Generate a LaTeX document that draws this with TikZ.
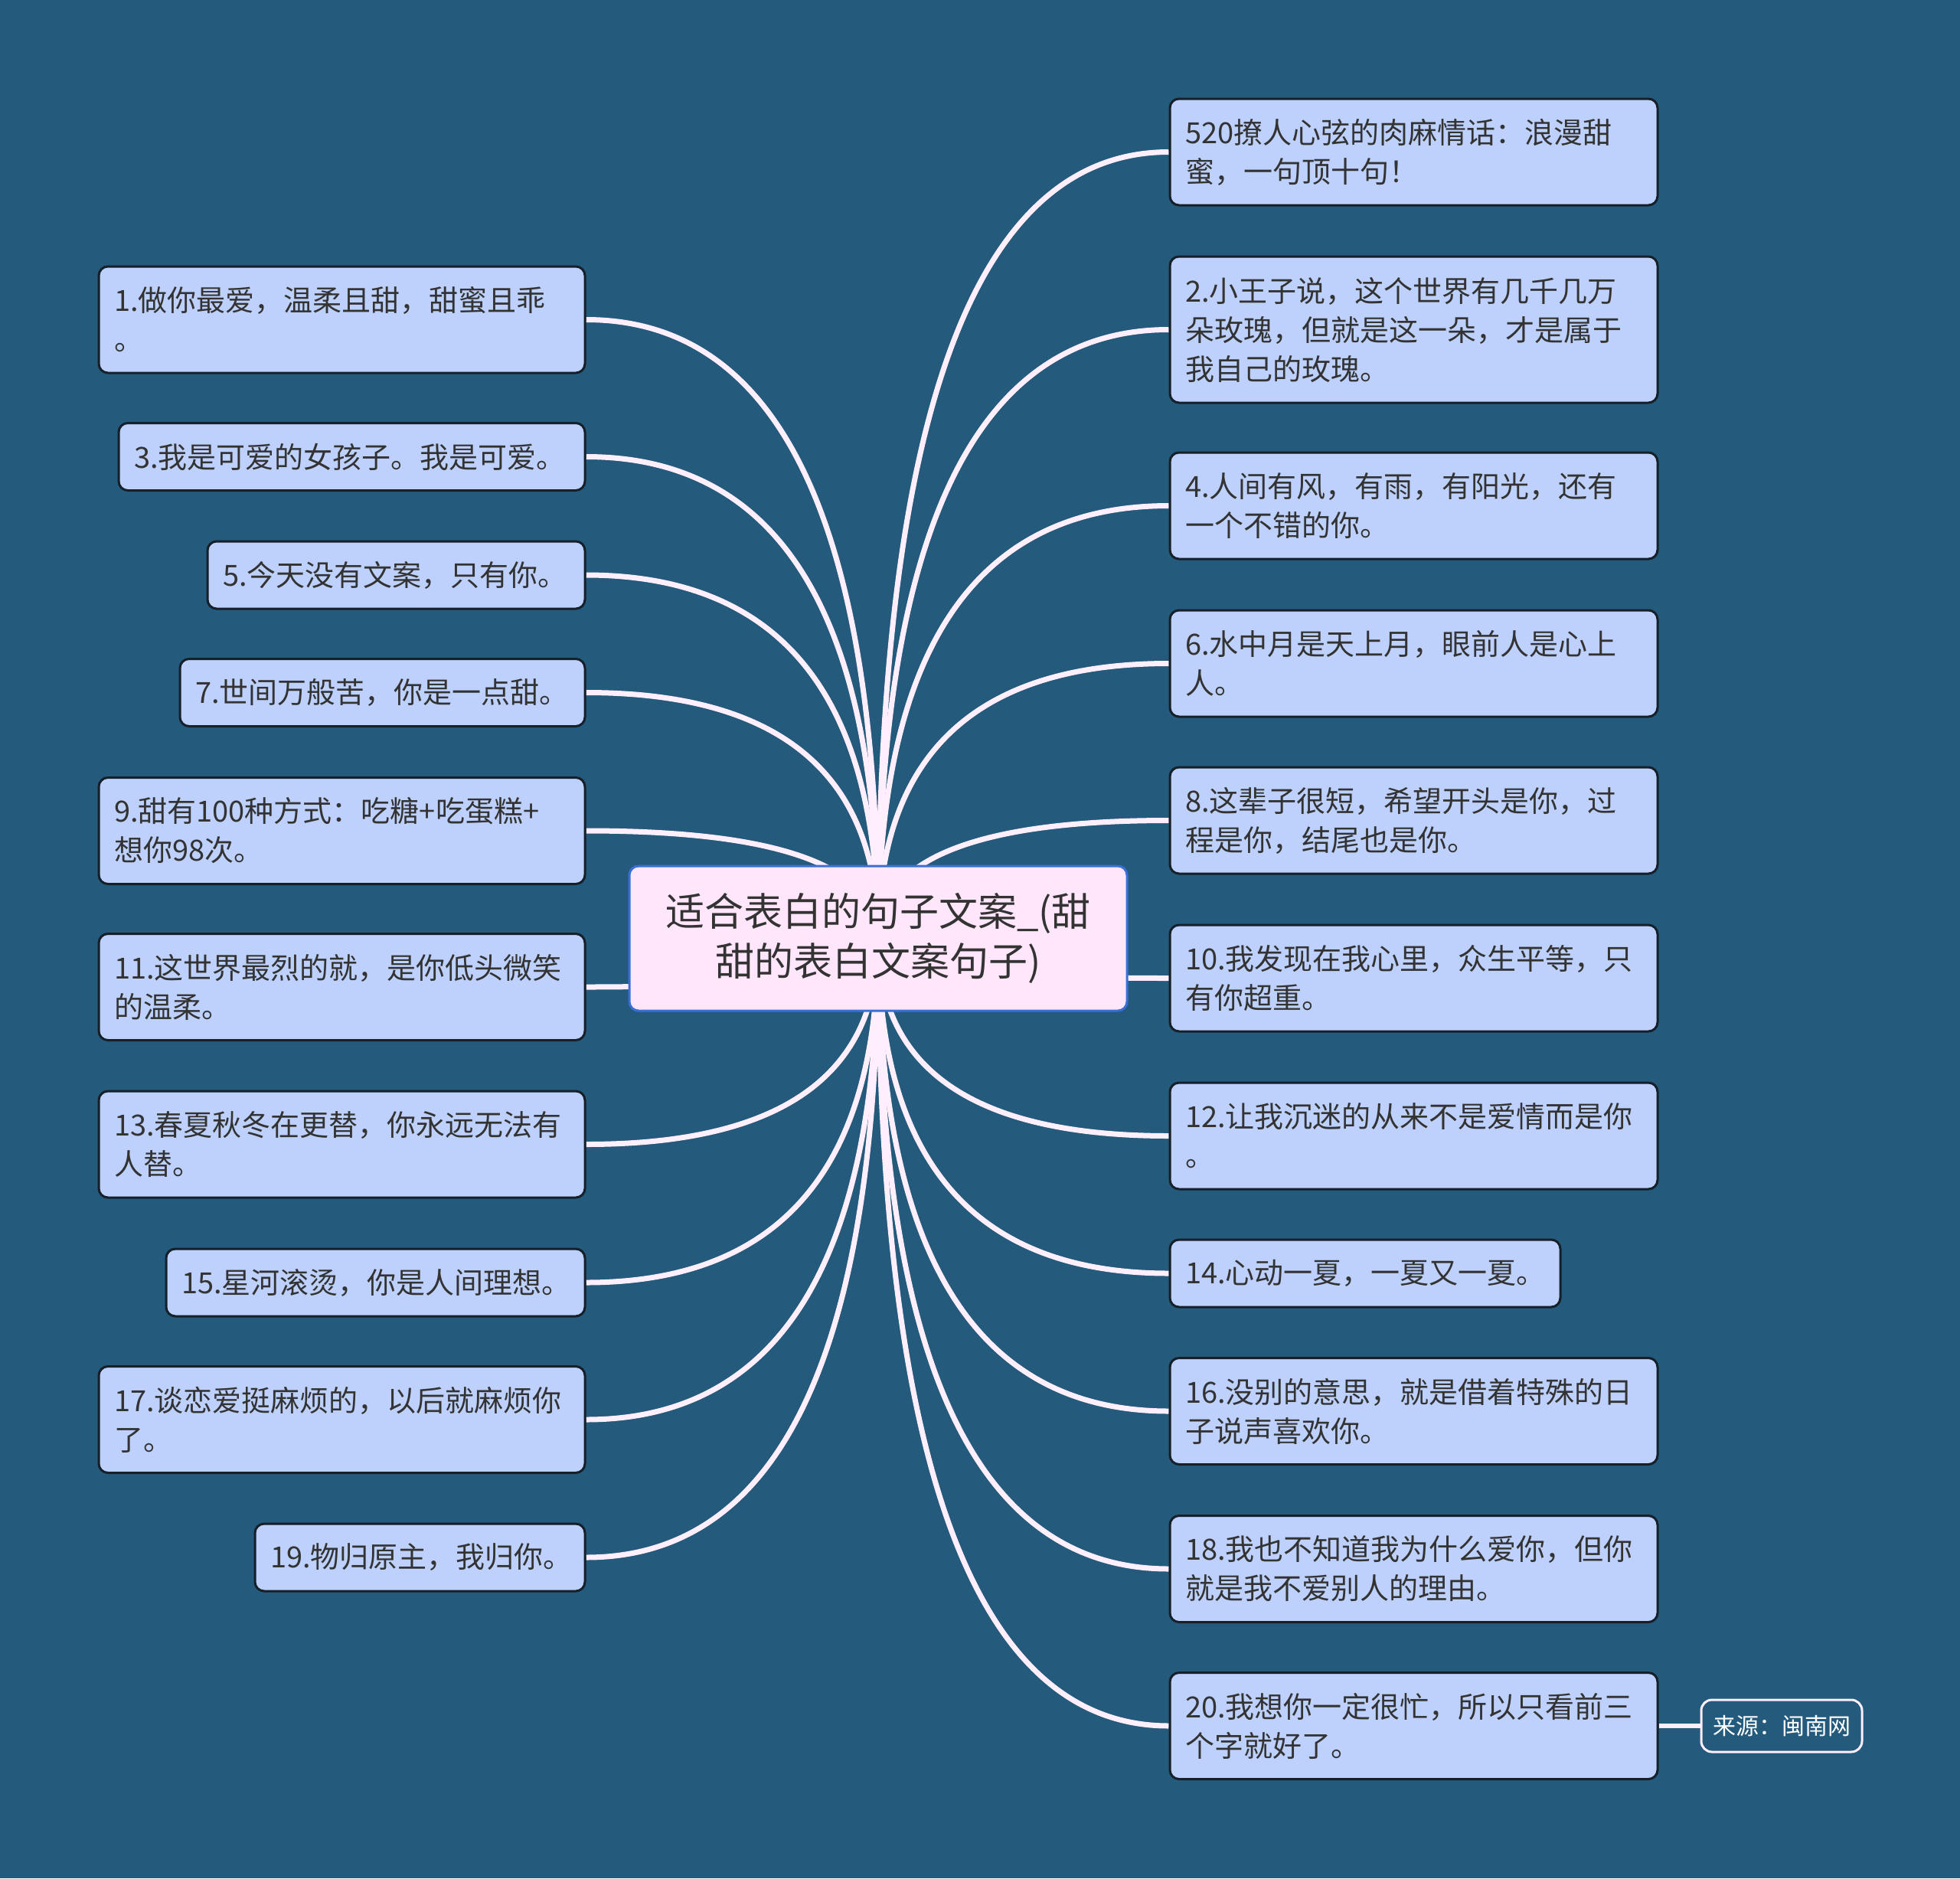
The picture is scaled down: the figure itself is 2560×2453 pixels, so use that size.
\documentclass[tikz,border=0pt]{standalone}
\usepackage{fontspec}
\newfontfamily\cjk{Noto Sans CJK SC}
\usetikzlibrary{calc}
\definecolor{bgcol}{HTML}{245A7C}
\definecolor{boxfill}{HTML}{BDD1FC}
\definecolor{boxborder}{HTML}{15202B}
\definecolor{rootfill}{HTML}{FFE6FA}
\definecolor{rootborder}{HTML}{3C6FD4}
\definecolor{linkcol}{HTML}{FFEEFB}
\definecolor{textcol}{HTML}{333333}
\pgfdeclarelayer{bglayer}
\pgfdeclarelayer{linklayer}
\pgfsetlayers{bglayer,linklayer,main}
\tikzset{
  leaf/.style={draw=boxborder, line width=3pt, fill=boxfill, rounded corners=12pt,
    inner xsep=20pt, inner ysep=0pt, align=left, text=textcol,
    font=\cjk\fontsize{38}{51}\selectfont},
  rootbox/.style={draw=rootborder, line width=3pt, fill=rootfill, rounded corners=12pt,
    inner sep=0pt, align=center, text=textcol,
    font=\cjk\fontsize{51}{65}\selectfont},
  srcbox/.style={draw=linkcol, line width=3pt, fill=bgcol, rounded corners=14pt,
    inner sep=0pt, align=center, text=white,
    font=\cjk\fontsize{30}{36}\selectfont},
  conn/.style={draw=linkcol, line width=7pt}
}
\newcommand\mmlink[1]{%
  \coordinate (mmq) at (root.center |- #1);
  \draw[conn] (root.center) .. controls ($(root.center)!0.6667!(mmq)$) and ($(#1)!0.6667!(mmq)$) .. (#1);}
\begin{document}
\begin{tikzpicture}[x=1pt,y=-1pt]
\useasboundingbox (0,0) rectangle (2560,2453);
\begin{pgfonlayer}{bglayer}
\fill[bgcol] (0,0) rectangle (2560,2453);
\end{pgfonlayer}

% root
\node[rootbox, minimum width=650pt, minimum height=189pt] (root) at (1147,1225.5)
  {适合表白的句子文案\_(甜\\甜的表白文案句子)};

% left leaves
\node[leaf, text width=595pt, minimum width=635pt, minimum height=139pt] (n1) at (446.5,417.5)
  {1.做你最爱，温柔且甜，甜蜜且乖\\。};
\node[leaf, text width=569pt, minimum width=609pt, minimum height=88pt] (n3) at (459.5,596.5)
  {3.我是可爱的女孩子。我是可爱。};
\node[leaf, text width=453pt, minimum width=493pt, minimum height=88pt] (n5) at (517.5,751)
  {5.今天没有文案，只有你。};
\node[leaf, text width=489pt, minimum width=529pt, minimum height=88pt] (n7) at (499.5,904.5)
  {7.世间万般苦，你是一点甜。};
\node[leaf, text width=595pt, minimum width=635pt, minimum height=139pt] (n9) at (446.5,1085)
  {9.甜有100种方式：吃糖+吃蛋糕+\\想你98次。};
\node[leaf, text width=595pt, minimum width=635pt, minimum height=139pt] (n11) at (446.5,1289)
  {11.这世界最烈的就，是你低头微笑\\的温柔。};
\node[leaf, text width=595pt, minimum width=635pt, minimum height=139pt] (n13) at (446.5,1494.5)
  {13.春夏秋冬在更替，你永远无法有\\人替。};
\node[leaf, text width=507pt, minimum width=547pt, minimum height=88pt] (n15) at (490.5,1675)
  {15.星河滚烫，你是人间理想。};
\node[leaf, text width=595pt, minimum width=635pt, minimum height=139pt] (n17) at (446.5,1854)
  {17.谈恋爱挺麻烦的，以后就麻烦你\\了。};
\node[leaf, text width=391pt, minimum width=431pt, minimum height=88pt] (n19) at (548.5,2034)
  {19.物归原主，我归你。};

% right leaves
\node[leaf, text width=597pt, minimum width=637pt, minimum height=139pt] (r520) at (1846.5,198.5)
  {520撩人心弦的肉麻情话：浪漫甜\\蜜，一句顶十句！};
\node[leaf, text width=597pt, minimum width=637pt, minimum height=191pt] (n2) at (1846.5,430.5)
  {2.小王子说，这个世界有几千几万\\朵玫瑰，但就是这一朵，才是属于\\我自己的玫瑰。};
\node[leaf, text width=597pt, minimum width=637pt, minimum height=139pt] (n4) at (1846.5,660.5)
  {4.人间有风，有雨，有阳光，还有\\一个不错的你。};
\node[leaf, text width=597pt, minimum width=637pt, minimum height=139pt] (n6) at (1846.5,866.5)
  {6.水中月是天上月，眼前人是心上\\人。};
\node[leaf, text width=597pt, minimum width=637pt, minimum height=139pt] (n8) at (1846.5,1071.5)
  {8.这辈子很短，希望开头是你，过\\程是你，结尾也是你。};
\node[leaf, text width=597pt, minimum width=637pt, minimum height=139pt] (n10) at (1846.5,1277.5)
  {10.我发现在我心里，众生平等，只\\有你超重。};
\node[leaf, text width=597pt, minimum width=637pt, minimum height=139pt] (n12) at (1846.5,1483.5)
  {12.让我沉迷的从来不是爱情而是你\\。};
\node[leaf, text width=470pt, minimum width=510pt, minimum height=88pt] (n14) at (1783,1663)
  {14.心动一夏，一夏又一夏。};
\node[leaf, text width=597pt, minimum width=637pt, minimum height=139pt] (n16) at (1846.5,1843)
  {16.没别的意思，就是借着特殊的日\\子说声喜欢你。};
\node[leaf, text width=597pt, minimum width=637pt, minimum height=139pt] (n18) at (1846.5,2049)
  {18.我也不知道我为什么爱你，但你\\就是我不爱别人的理由。};
\node[leaf, text width=597pt, minimum width=637pt, minimum height=139pt] (n20) at (1846.5,2254)
  {20.我想你一定很忙，所以只看前三\\个字就好了。};

\node[srcbox, minimum width=210pt, minimum height=68pt] (src) at (2327,2254) {来源：闽南网};

% connectors (behind nodes)
\begin{pgfonlayer}{linklayer}
\foreach \nn in {n1,n3,n5,n7,n9,n11,n13,n15,n17,n19}{\mmlink{\nn.east}}
\foreach \nn in {r520,n2,n4,n6,n8,n10,n12,n14,n16,n18,n20}{\mmlink{\nn.west}}
\draw[conn, line width=6pt] (n20.east) -- (src.west);
\end{pgfonlayer}
\end{tikzpicture}
\end{document}
